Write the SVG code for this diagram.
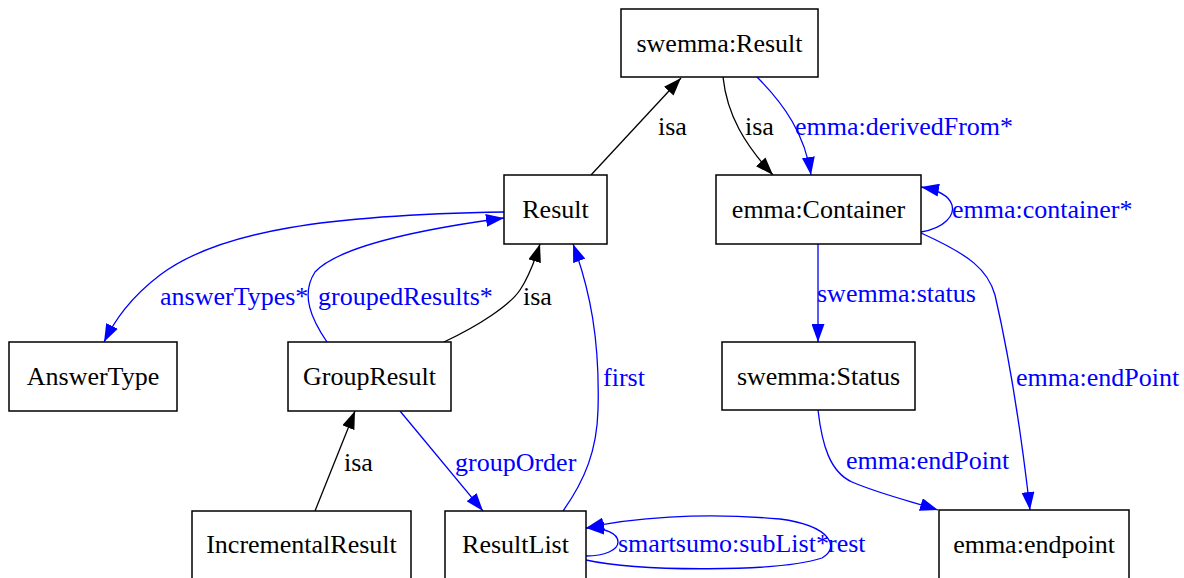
<svg xmlns="http://www.w3.org/2000/svg" width="1184" height="578" viewBox="0 0 1184 578">
<style>
.node rect{fill:#ffffff;stroke:#000000;stroke-width:1.5}
.node text{font-family:"Liberation Serif","Times New Roman",serif;font-size:26px;fill:#000000;text-anchor:middle}
.e{fill:none;stroke-width:1.3}
.k{stroke:#000000;marker-end:url(#ak)}
.b{stroke:#0000ff;marker-end:url(#ab)}
.lbl{font-family:"Liberation Serif","Times New Roman",serif;font-size:26px}
.lk{fill:#000000}
.lb{fill:#0000ff}
</style>
<defs>
<marker id="ak" viewBox="0 0 18 13" refX="18" refY="6.5" markerWidth="18" markerHeight="13" markerUnits="userSpaceOnUse" orient="auto"><path d="M0,0 L18,6.5 L0,13 z" fill="#000000"/></marker>
<marker id="ab" viewBox="0 0 18 13" refX="18" refY="6.5" markerWidth="18" markerHeight="13" markerUnits="userSpaceOnUse" orient="auto"><path d="M0,0 L18,6.5 L0,13 z" fill="#0000ff"/></marker>
</defs>
<rect width="1184" height="578" fill="#ffffff"/>
<g id="connectors">
<path class="e k" d="M591,175 L681,78"/>
<path class="e k" d="M723,77 C727,115 745,145 773,175"/>
<path class="e b" d="M757,77 C785,105 805,135 811,175"/>
<path class="e b" d="M921,232 C945,228 955,215 952,205 C949,195 938,190 921,187"/>
<path class="e b" d="M921,233 C970,255 988,270 995,295 C1010,360 1022,440 1030,510"/>
<path class="e b" d="M818,244 L818,342"/>
<path class="e b" d="M818,410 C822,445 830,472 852,482 C880,494 910,501 938,510"/>
<path class="e b" d="M504,212 C330,215 220,230 160,275 C130,298 115,320 104,342"/>
<path class="e b" d="M327,342 C312,320 300,295 315,272 C340,245 430,228 504,218"/>
<path class="e k" d="M444,342 C480,325 510,305 520,290 C530,275 535,260 540,244"/>
<path class="e b" d="M563,511 C585,480 597,450 598,410 C600,340 590,290 573,244"/>
<path class="e b" d="M400,411 L483,511"/>
<path class="e k" d="M315,511 L355,411"/>
<path class="e b" d="M586,556 C605,556 618,550 618,542 C618,533 605,528 586,528"/>
<path class="e b" d="M586,560 C640,572 780,572 822,558 C840,548 832,526 780,519 C700,512 630,518 586,528"/>
<text class="lbl lk" x="658" y="135">isa</text>
<text class="lbl lk" x="745" y="135">isa</text>
<text class="lbl lb" x="795" y="135">emma:derivedFrom*</text>
<text class="lbl lb" x="952" y="218">emma:container*</text>
<text class="lbl lb" x="160" y="305">answerTypes*</text>
<text class="lbl lb" x="318" y="305">groupedResults*</text>
<text class="lbl lk" x="523" y="305">isa</text>
<text class="lbl lb" x="817" y="302">swemma:status</text>
<text class="lbl lb" x="603" y="386">first</text>
<text class="lbl lb" x="1016" y="386">emma:endPoint</text>
<text class="lbl lb" x="846" y="469">emma:endPoint</text>
<text class="lbl lb" x="455" y="471">groupOrder</text>
<text class="lbl lk" x="344" y="471">isa</text>
<text class="lbl lb" x="618" y="552">smartsumo:subList*</text>
<text class="lbl lb" x="828" y="552">rest</text>
</g>
<g id="n-swemma-result" class="node"><rect x="621" y="9" width="197" height="68"/><text x="719.5" y="52">swemma:Result</text></g>
<g id="n-result" class="node"><rect x="504" y="175" width="103" height="69"/><text x="555.5" y="218">Result</text></g>
<g id="n-emma-container" class="node"><rect x="716" y="175" width="205" height="69"/><text x="818.5" y="218">emma:Container</text></g>
<g id="n-answertype" class="node"><rect x="9" y="342" width="168" height="69"/><text x="93" y="385">AnswerType</text></g>
<g id="n-groupresult" class="node"><rect x="288" y="342" width="163" height="69"/><text x="369.5" y="385">GroupResult</text></g>
<g id="n-swemma-status" class="node"><rect x="722" y="342" width="193" height="68"/><text x="818.5" y="385">swemma:Status</text></g>
<g id="n-incrementalresult" class="node"><rect x="192" y="511" width="219" height="68"/><text x="301.5" y="553">IncrementalResult</text></g>
<g id="n-resultlist" class="node"><rect x="445" y="511" width="141" height="68"/><text x="515.5" y="553">ResultList</text></g>
<g id="n-emma-endpoint" class="node"><rect x="939" y="510" width="190" height="69"/><text x="1034" y="553">emma:endpoint</text></g>
</svg>
